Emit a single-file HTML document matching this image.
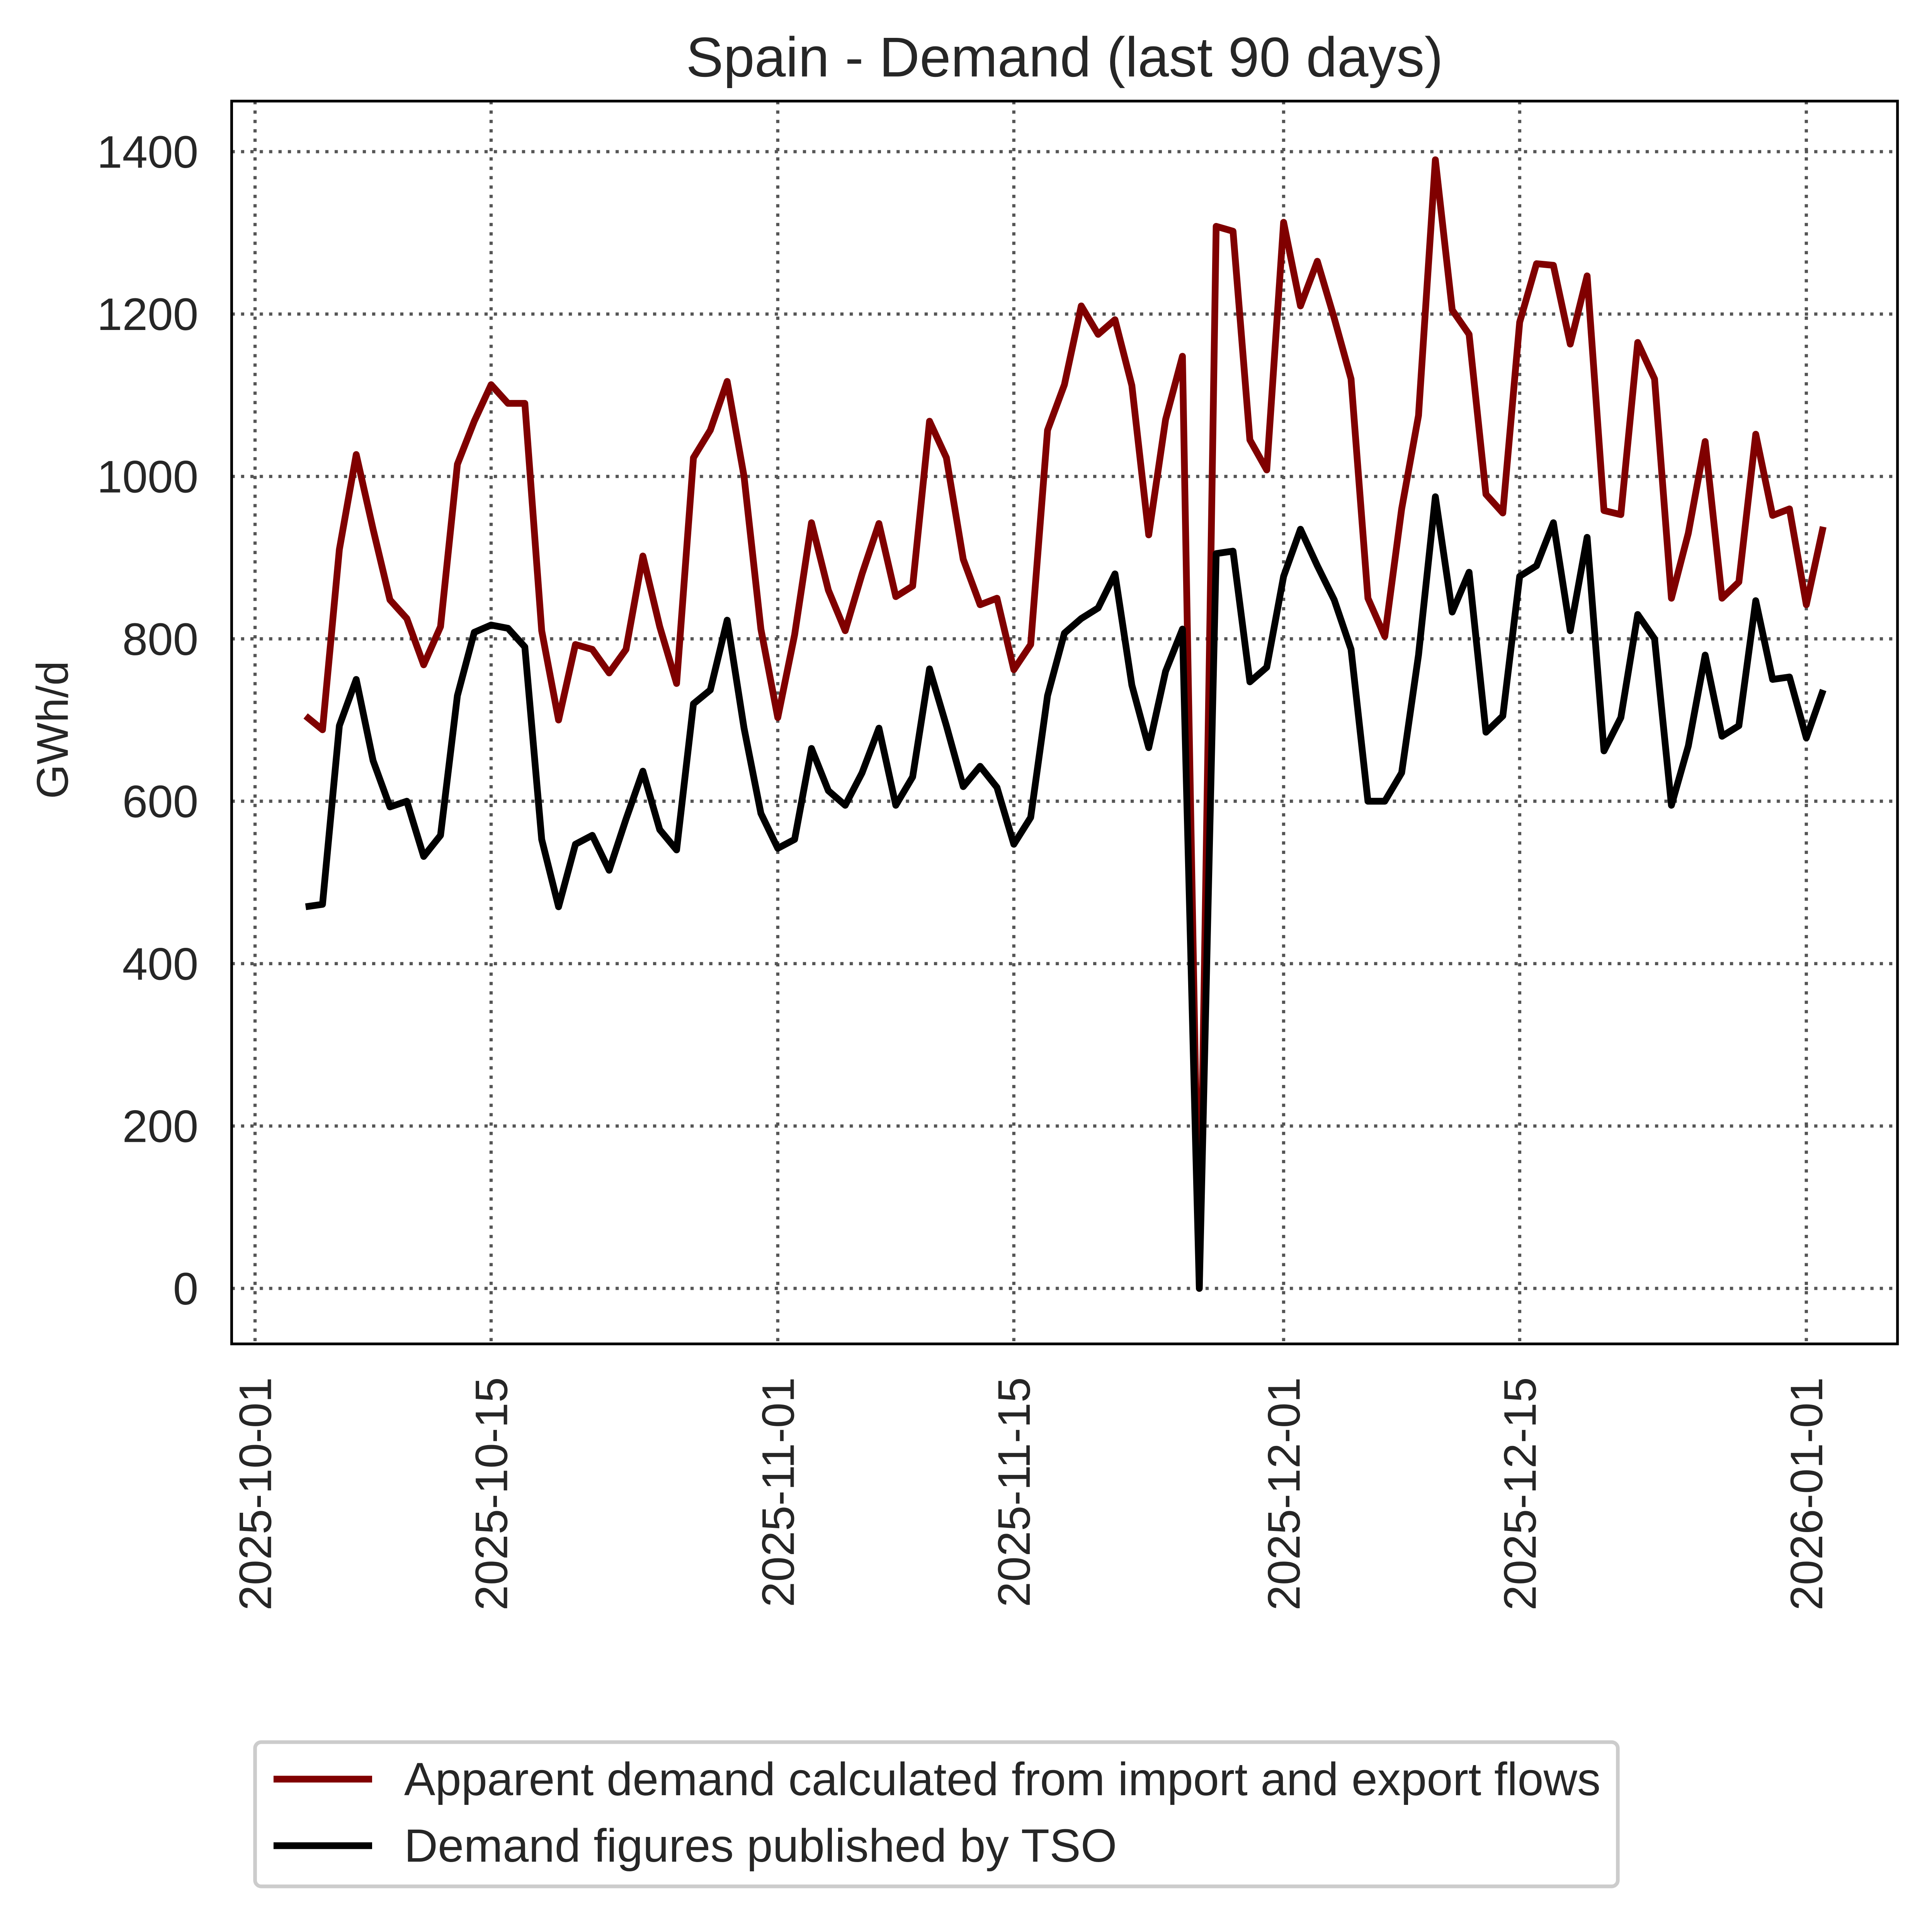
<!DOCTYPE html>
<html><head><meta charset="utf-8"><style>
html,body{margin:0;padding:0;background:#fff;width:100%;height:100%;overflow:hidden}
svg{display:block;position:fixed;left:0;top:0;width:100vw;height:100vh}
text{font-family:"Liberation Sans",Arial,sans-serif;fill:#262626}
</style></head><body>
<svg id="chart" viewBox="0 0 1568 1567" preserveAspectRatio="none" xmlns="http://www.w3.org/2000/svg">
<rect x="0" y="0" width="1568" height="1567" fill="#fff"/>
<text x="864" y="62" font-size="45.5" text-anchor="middle">Spain - Demand (last 90 days)</text>
<g id="grid"></g>
<g id="series"></g>
<rect x="188" y="82" width="1352" height="1008" fill="none" stroke="#000" stroke-width="2.2"/>
<g id="yaxis"></g>
<g id="xaxis"></g>
<text transform="translate(55,592) rotate(-90)" font-size="36" text-anchor="middle">GWh/d</text>
<g>
<rect x="207" y="1413" width="1106" height="117" rx="5" fill="#fff" stroke="#ccc" stroke-width="3"/>
<line x1="222" y1="1443" x2="302" y2="1443" stroke="#800000" stroke-width="5.5"/>
<text x="328" y="1456" font-size="37.9">Apparent demand calculated from import and export flows</text>
<line x1="222" y1="1497" x2="302" y2="1497" stroke="#000" stroke-width="5.5"/>
<text x="328" y="1510" font-size="37.9">Demand figures published by TSO</text>
</g>
</svg>
<script>
const startDay = 3; // first point: 2025-10-04 (days after 2025-10-01)
const apparentDemand = [705,688,910,1027,935,848,825,768,815,1015,1068,1113,1090,1090,810,700,793,787,758,787,902,815,745,1023,1057,1117,1000,812,703,805,943,860,810,880,942,852,865,1068,1023,898,842,850,762,793,1057,1113,1210,1175,1193,1112,928,1070,1148,0,1308,1302,1045,1008,1313,1210,1265,1195,1120,850,803,960,1075,1390,1205,1175,978,955,1190,1262,1260,1163,1247,958,953,1165,1120,850,930,1043,850,870,1052,952,960,842,938];
const tsoDemand = [470,473,693,750,650,593,600,532,558,730,808,817,813,790,553,470,547,558,515,578,637,565,540,720,737,823,690,585,542,553,665,613,595,635,690,595,630,763,693,618,643,617,547,580,730,807,825,838,880,743,666,760,812,0,905,908,747,765,877,935,890,848,787,600,600,635,780,975,833,882,685,705,877,890,943,810,925,662,703,830,800,595,668,780,680,693,847,750,753,678,737];
const yTicks = [0,200,400,600,800,1000,1200,1400];
const xTickDays = [0,14,31,45,61,75,92];
const xTickLabels = ["2025-10-01","2025-10-15","2025-11-01","2025-11-15","2025-12-01","2025-12-15","2026-01-01"];

const NS = "http://www.w3.org/2000/svg";
const xScale = d => 207 + d * (1466 - 207) / 92;
const yScale = v => 1045 - v * (1045 - 123) / 1400;
function mk(tag, attrs, parent){const e=document.createElementNS(NS,tag);for(const k in attrs)e.setAttribute(k,attrs[k]);parent.appendChild(e);return e;}
const grid=document.getElementById('grid'), ser=document.getElementById('series'), ya=document.getElementById('yaxis'), xa=document.getElementById('xaxis');
yTicks.forEach(v=>{
  const g=mk('line',{x1:188,x2:1540,y1:yScale(v),y2:yScale(v),stroke:'#555','stroke-width':2.6,'stroke-dasharray':'2.6,5'},grid);
  
  
  const t=mk('text',{x:161,y:yScale(v)+13,'font-size':37,'text-anchor':'end'},ya);
  t.textContent=v;
  
  
});
xTickDays.forEach((d,i)=>{
  const g=mk('line',{x1:xScale(d),x2:xScale(d),y1:82,y2:1090,stroke:'#555','stroke-width':2.6,'stroke-dasharray':'2.6,5'},grid);
  
  
  const t=mk('text',{transform:`translate(${xScale(d)+13},1117) rotate(-90)`,'font-size':37,'text-anchor':'end'},xa);
  t.textContent=xTickLabels[i];
  
  
});
function line(data,color,name){
  const pts=data.map((v,i)=>xScale(startDay+i).toFixed(2)+','+yScale(v).toFixed(2)).join(' ');
  const p=mk('polyline',{points:pts,fill:'none',stroke:color,'stroke-width':5.5,'stroke-linejoin':'round'},ser);
  
  
}
line(apparentDemand,'#800000','apparent-demand-line');
line(tsoDemand,'#000','tso-demand-line');
</script>
</body></html>
